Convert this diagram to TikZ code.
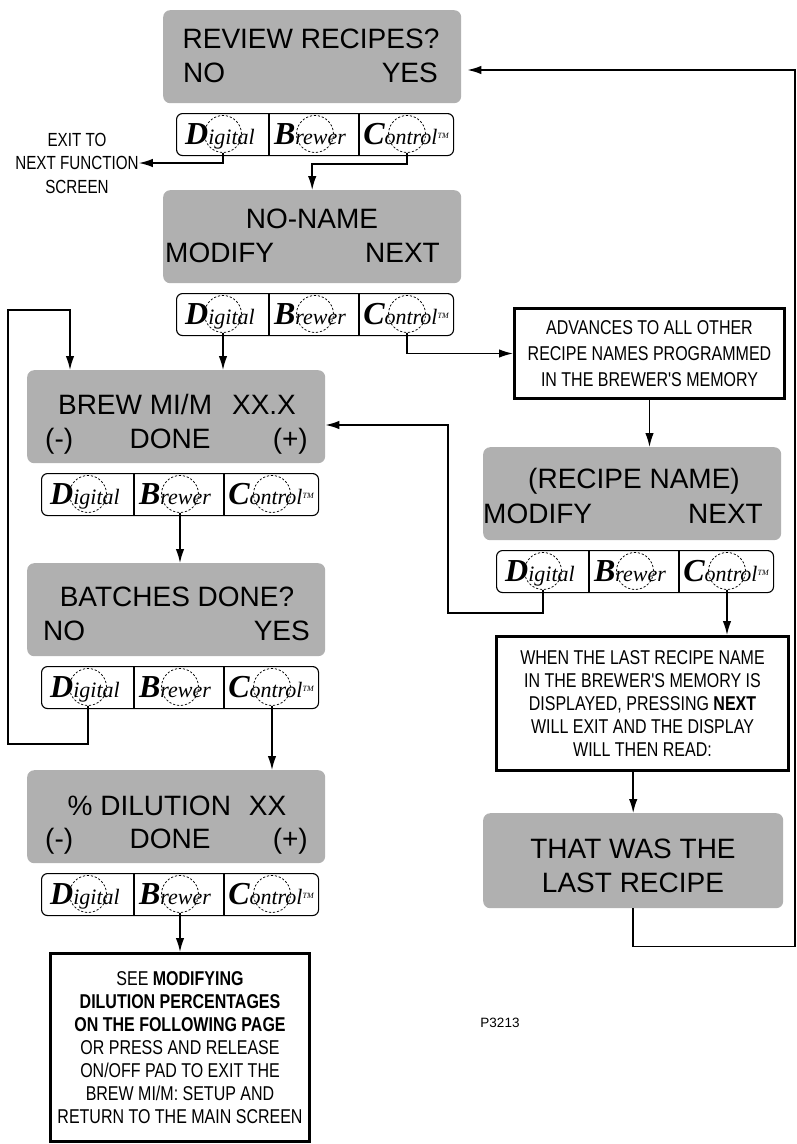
\documentclass[tikz,border=0pt]{standalone}
\usepackage{fontspec}
\setmainfont{Liberation Sans}
\newfontfamily\condfont[FakeStretch=0.8]{Liberation Sans}
\newfontfamily\logofont{Liberation Serif}
\usetikzlibrary{arrows.meta,calc}

\definecolor{lcdgray}{RGB}{176,176,176}

\newcommand\lD{{\logofont\bfseries\itshape\fontsize{32}{32}\selectfont D}{\logofont\itshape\fontsize{22}{22}\selectfont igital}}
\newcommand\lB{{\logofont\bfseries\itshape\fontsize{32}{32}\selectfont B}{\logofont\itshape\fontsize{22}{22}\selectfont rewer}}
\newcommand\lC{{\logofont\bfseries\itshape\fontsize{32}{32}\selectfont C}{\logofont\itshape\fontsize{22}{22}\selectfont ontrol}\raisebox{6pt}{\logofont\itshape\fontsize{8}{8}\selectfont TM}}

\tikzset{
  screen/.style={fill=lcdgray, rounded corners=7pt, minimum width=298pt, minimum height=93pt, anchor=north west, inner sep=0pt},
  scr/.style={font=\fontsize{28}{28}\selectfont, inner sep=0pt},
  keybox/.style={draw, line width=1.1pt, rounded corners=6pt, minimum width=277pt, minimum height=42pt, anchor=north west, inner sep=0pt},
  divider/.style={line width=1.1pt},
  logo/.style={anchor=base, inner sep=0pt},
  keycirc/.style={draw, dash pattern=on 2.2pt off 1.8pt, line width=0.75pt, circle, minimum size=37pt, inner sep=0pt},
  note/.style={draw, line width=3pt, anchor=north west, inner sep=0pt, align=center},
  notefont/.style={font=\condfont\fontsize{20}{23}\selectfont},
  flow/.style={line width=1.5pt, -{Latex[length=14pt,width=8.5pt]}},
}

\newcommand\keybar[3]{%
  \node[keybox] (#1) at (#2,#3) {};
  \draw[divider] (#2+93,#3) -- (#2+93,#3+42);
  \draw[divider] (#2+183,#3) -- (#2+183,#3+42);
  \node[logo] (#1-dt) at (#2+44,#3+31) {\lD};
  \node[logo] (#1-bt) at (#2+134,#3+31) {\lB};
  \node[logo] (#1-ct) at (#2+230,#3+31) {\lC};
  \node[keycirc] (#1-d) at (#2+47,#3+21) {};
  \node[keycirc] (#1-b) at (#2+139,#3+21) {};
  \node[keycirc] (#1-c) at (#2+231,#3+21) {};
}

\begin{document}
\begin{tikzpicture}[x=1pt,y=-1pt]
\useasboundingbox (0,0) rectangle (796,1144);

% ---------- screens ----------
\node[screen] (s1) at (163,10) {};
\node[scr, anchor=base] (s1-t) at (311,48) {REVIEW RECIPES?};
\node[scr, anchor=base west] (s1-no) at (183,82) {NO};
\node[scr, anchor=base east] (s1-yes) at (438,82) {YES};

\node[screen] (s2) at (163,190) {};
\node[scr, anchor=base] (s2-t) at (312,228) {NO-NAME};
\node[scr, anchor=base west] (s2-mod) at (165,262) {MODIFY};
\node[scr, anchor=base east] (s2-next) at (440,262) {NEXT};

\node[screen] (brew) at (27,370) {};
\node[scr, anchor=base] (brew-t) at (177,414) {BREW MI/M\hspace{20pt}XX.X};
\node[scr, anchor=base west] (brew-m) at (45,448) {(-)};
\node[scr, anchor=base] (brew-d) at (170,448) {DONE};
\node[scr, anchor=base east] (brew-p) at (308,448) {(+)};

\node[screen] (batch) at (27,563) {};
\node[scr, anchor=base] (batch-t) at (177,606) {BATCHES DONE?};
\node[scr, anchor=base west] (batch-no) at (43,640) {NO};
\node[scr, anchor=base east] (batch-yes) at (310,640) {YES};

\node[screen] (dil) at (27,770) {};
\node[scr, anchor=base] (dil-t) at (177,815) {\% DILUTION\hspace{18pt}XX};
\node[scr, anchor=base west] (dil-m) at (45,848) {(-)};
\node[scr, anchor=base] (dil-d) at (170,848) {DONE};
\node[scr, anchor=base east] (dil-p) at (308,848) {(+)};

\node[screen] (recipe) at (483,447) {};
\node[scr, anchor=base] (recipe-t) at (634,488) {(RECIPE NAME)};
\node[scr, anchor=base west] (recipe-mod) at (483,523) {MODIFY};
\node[scr, anchor=base east] (recipe-next) at (763,523) {NEXT};

\node[screen, minimum width=300pt, minimum height=95pt] (tw) at (483,813) {};
\node[scr, anchor=base] (tw-1) at (633,858) {THAT WAS THE};
\node[scr, anchor=base] (tw-2) at (633,892) {LAST RECIPE};

% ---------- key bars ----------
\keybar{b1}{176}{113}
\keybar{b2}{176}{293}
\keybar{b3}{41}{473}
\keybar{b4}{41}{666}
\keybar{b5}{41}{873}
\keybar{b6}{496}{550}

% ---------- notes ----------
\node[note, notefont, font=\condfont\fontsize{20}{26}\selectfont, minimum width=270pt, minimum height=90pt] (adv) at (513,307)
  {ADVANCES TO ALL OTHER\\RECIPE NAMES PROGRAMMED\\IN THE BREWER'S MEMORY};
\node[note, notefont, minimum width=292pt, minimum height=134pt] (when) at (495,635)
  {WHEN THE LAST RECIPE NAME\\IN THE BREWER'S MEMORY IS\\DISPLAYED, PRESSING \textbf{NEXT}\\WILL EXIT AND THE DISPLAY\\WILL THEN READ:};
\node[note, notefont, minimum width=259pt, minimum height=188pt] (see) at (49,952)
  {SEE \textbf{MODIFYING}\\\textbf{DILUTION PERCENTAGES}\\\textbf{ON THE FOLLOWING PAGE}\\OR PRESS AND RELEASE\\ON/OFF PAD TO EXIT THE\\BREW MI/M: SETUP AND\\RETURN TO THE MAIN SCREEN};

\node[align=center, inner sep=0pt, font=\condfont\fontsize{19}{23.5}\selectfont] (exit) at (77,163)
  {EXIT TO\\NEXT FUNCTION\\SCREEN};
\node[inner sep=0pt, font=\fontsize{13.5}{13.5}\selectfont] (code) at (500,1023) {P3213};

% ---------- connectors ----------
\coordinate (lp6) at (448,425);
\coordinate (rt) at (795,70);
\coordinate (lt) at (8,310);
\coordinate (ld) at (70,310);

\draw[flow] (b1-d.south) |- (exit.east);
\draw[flow] (b1-c.south) -- ++(0,11) -| (s2.north);
\draw[flow] (b2-d.south) -- (b2-d.south |- brew.north);
\draw[flow] (b2-c.south) |- (adv.west);
\draw[flow] (adv.south) -- (adv.south |- recipe.north);
\draw[flow] (b6-d.south) -- ++(0,23) -| (lp6) -- (lp6 -| brew.east);
\draw[flow] (b6-c.south) -- (b6-c.south |- when.north);
\draw[flow] (tw.north |- when.south) -- (tw.north);
\draw[flow, shorten >=6pt] (tw.south) -- ++(0,38) -| (rt) -- (rt -| s1.east);
\draw[flow] (b3-b.south) -- (b3-b.south |- batch.north);
\draw[flow] (b4-d.south) -- ++(0,38) -| (lt) -- (ld) -- (ld |- brew.north);
\draw[flow] (b4-c.south) -- (b4-c.south |- dil.north);
\draw[flow] (b5-b.south) -- (b5-b.south |- see.north);
\end{tikzpicture}
\end{document}
